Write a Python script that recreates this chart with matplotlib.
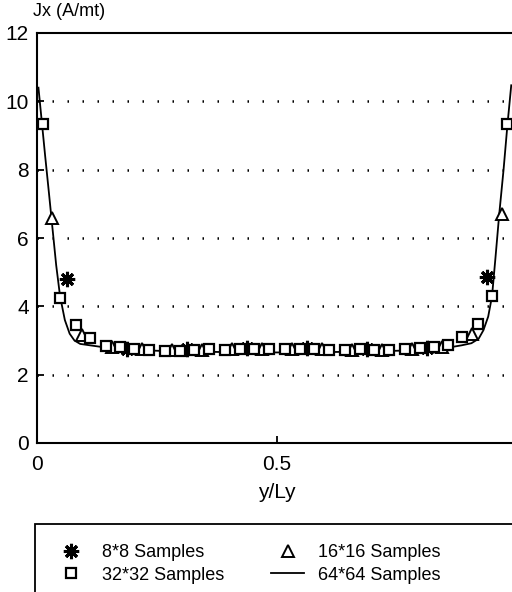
import numpy as np
import matplotlib
matplotlib.use('Agg')
import matplotlib.pyplot as plt
from matplotlib.patches import Rectangle

plt.rcParams['font.family'] = ['Liberation Sans', 'DejaVu Sans']

# 8x8 samples (stars)
x8 = [0.0625, 0.1875, 0.3125, 0.4375, 0.5625, 0.6875, 0.8125, 0.9375]
y8 = [4.8, 2.75, 2.74, 2.78, 2.78, 2.76, 2.78, 4.85]

# 16x16 samples (triangles)
x16 = [0.031, 0.094, 0.156, 0.219, 0.281, 0.344, 0.406, 0.469,
       0.531, 0.594, 0.656, 0.719, 0.781, 0.844, 0.906, 0.969]
y16 = [6.6, 3.15, 2.82, 2.74, 2.72, 2.73, 2.75, 2.74,
       2.74, 2.75, 2.73, 2.72, 2.74, 2.82, 3.2, 6.7]

# 32x32 samples (squares)
x32 = [0.012, 0.047, 0.081, 0.11, 0.144, 0.172, 0.203, 0.234, 0.266, 0.297,
       0.328, 0.359, 0.391, 0.422, 0.453, 0.484, 0.516, 0.547, 0.578, 0.609,
       0.641, 0.672, 0.703, 0.734, 0.766, 0.797, 0.828, 0.856, 0.885, 0.919,
       0.948, 0.979]
y32 = [9.35, 4.25, 3.45, 3.08, 2.85, 2.8, 2.76, 2.72, 2.7, 2.7,
       2.72, 2.74, 2.73, 2.74, 2.76, 2.74, 2.74, 2.76, 2.74, 2.73,
       2.72, 2.74, 2.72, 2.72, 2.74, 2.78, 2.82, 2.88, 3.1, 3.48,
       4.3, 9.35]

# 64x64 samples (solid line)
x64 = [0.003, 0.01, 0.017, 0.025, 0.03, 0.04, 0.048, 0.058, 0.068, 0.078,
       0.09, 0.11, 0.14, 0.2, 0.3, 0.4, 0.5, 0.6, 0.7, 0.8,
       0.86, 0.885, 0.905, 0.92, 0.93, 0.94, 0.948, 0.955, 0.963, 0.972,
       0.98, 0.988]
y64 = [10.4, 9.4, 8.4, 7.3, 6.6, 5.2, 4.3, 3.6, 3.2, 3.0,
       2.9, 2.86, 2.8, 2.72, 2.68, 2.66, 2.65, 2.66, 2.68, 2.72,
       2.8, 2.86, 2.92, 3.05, 3.3, 3.7, 4.3, 5.4, 6.7, 8.0,
       9.3, 10.47]

fig = plt.figure(figsize=(5.12, 5.92), dpi=100)
# x = 1 falls just past the right edge of the page, as in the scan
ax = fig.add_axes([37/512, 149/592, 480/512, 410/592])

ax.set_xlim(0, 1)
ax.set_ylim(0, 12)

for yv in [2, 4, 6, 8, 10]:
    ax.axhline(yv, color='black', lw=1.8, linestyle=(0, (0.6, 5.4)), zorder=1)

l64, = ax.plot(x64, y64, color='black', lw=1.3, zorder=3)
l8, = ax.plot(x8, y8, linestyle='none', marker=(8, 2, 0), ms=11, mew=2.2,
              color='black', zorder=4)
l16, = ax.plot(x16, y16, linestyle='none', marker='^', ms=8, mew=1.4,
               mfc='white', mec='black', zorder=4)
l32, = ax.plot(x32, y32, linestyle='none', marker='s', ms=7, mew=1.6,
               mfc='white', mec='black', zorder=5)

for s in ['left', 'bottom', 'top']:
    ax.spines[s].set_linewidth(1.5)
ax.spines['right'].set_visible(False)

ax.set_yticks([0, 2, 4, 6, 8, 10, 12])
ax.set_yticklabels(['0', '2', '4', '6', '8', '10', '12'])
ax.set_xticks([0, 0.5])
ax.set_xticklabels(['0', '0.5'])
ax.tick_params(direction='in', length=5, width=1.3, labelsize=15)
ax.tick_params(axis='y', pad=6)
ax.tick_params(axis='x', pad=9)

fig.text(33/512, 1 - 11/592, 'Jx (A/mt)', fontsize=13, ha='left', va='center')
fig.text(277/512, 1 - 492/592, 'y/Ly', fontsize=15, ha='center', va='center')

# legend box (runs off the page bottom and right)
fig.patches.append(Rectangle((35/512, -0.05), 0.99, (592 - 524)/592 + 0.05,
                             transform=fig.transFigure, fill=False,
                             edgecolor='black', lw=1.3))
fig.legend([l8, l32, l16, l64],
           ['8*8 Samples', '32*32 Samples', '16*16 Samples', '64*64 Samples'],
           ncol=2, frameon=False, loc='upper left',
           bbox_to_anchor=(48/512, 1 - 537/592), fontsize=13,
           handlelength=1.8, columnspacing=2.6, labelspacing=0.3,
           handletextpad=0.8, borderaxespad=0)

fig.savefig('out.png', dpi=100)
